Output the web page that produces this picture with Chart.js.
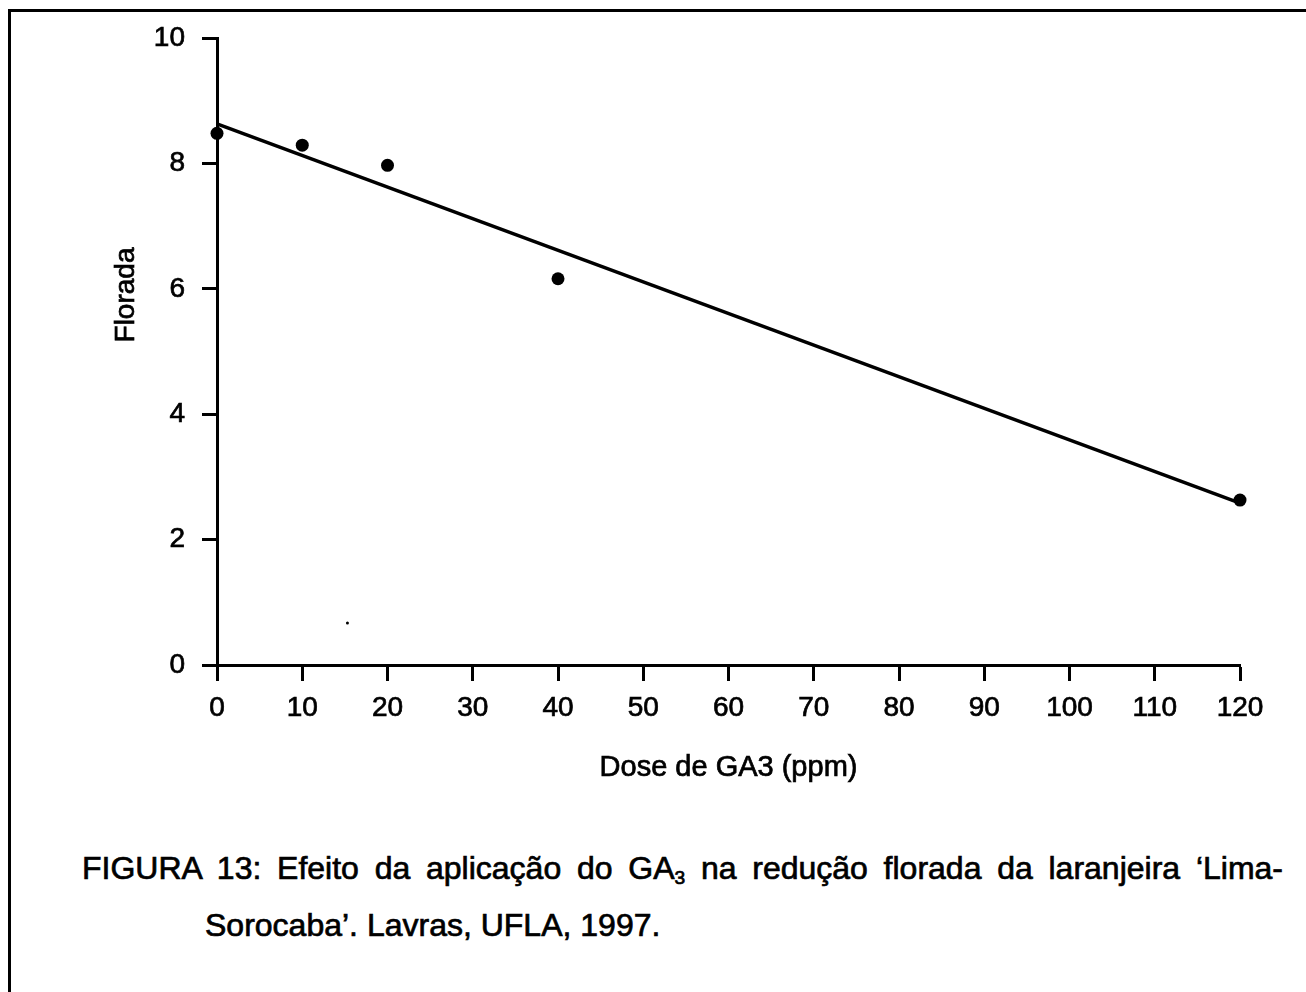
<!DOCTYPE html>
<html>
<head>
<meta charset="utf-8">
<script src="https://cdn.jsdelivr.net/npm/chart.js@4.4.0/dist/chart.umd.min.js"></script>
<style>
  html, body { margin:0; padding:0; background:#fff; width:1306px; height:992px; overflow:hidden; }
  #frame { position:absolute; left:8px; top:9px; width:1300px; height:990px; border-top:3px solid #000; border-left:3px solid #000; }
  #wrap { position:absolute; left:0; top:0; width:1306px; height:800px; }
  .cap { position:absolute; font-family:"Liberation Sans", Arial, sans-serif; font-size:32px; color:#000; white-space:nowrap; line-height:38px; -webkit-text-stroke:0.7px #000; }
  #cap1 { left:82px; top:849px; width:1201px; white-space:normal; text-align:justify; text-align-last:justify; }
  #cap2 { left:205px; top:906px; }
  sub { font-size:60%; vertical-align:-5px; line-height:0; }
</style>
</head>
<body>
<div id="frame"></div>
<div id="wrap"><canvas id="c"></canvas></div>
<div class="cap" id="cap1">FIGURA 13: Efeito da aplicação do GA<sub>3</sub> na redução florada da laranjeira ‘Lima-</div>
<div class="cap" id="cap2">Sorocaba’. Lavras, UFLA, 1997.</div>
<script>
// Data
const doses = [0, 10, 20, 40, 120];
const florada = [8.48, 8.29, 7.97, 6.16, 2.63];
const fitDoses = [0, 120];
const fitValues = [8.63, 2.58];
const speckDoses = [15.3];
const speckValues = [0.67];
const xTicks = [0, 10, 20, 30, 40, 50, 60, 70, 80, 90, 100, 110, 120];
const yTicks = [0, 2, 4, 6, 8, 10];
const xTitle = 'Dose de GA3 (ppm)';
const yTitle = 'Florada';

const toXY = (xs, ys) => xs.map((x, i) => ({x: x, y: ys[i]}));
const FONT = '"Liberation Sans", Arial, sans-serif';

const axisTitlePlugin = {
  id: 'axisTitles',
  afterDraw(chart) {
    const ctx = chart.ctx;
    const xs = chart.scales.x;
    ctx.save();
    ctx.fillStyle = '#000';
    ctx.strokeStyle = '#000';
    ctx.lineWidth = 0.7;
    ctx.textAlign = 'center';
    ctx.textBaseline = 'middle';
    // x title, centred under the x axis
    ctx.font = '29px ' + FONT;
    const cx = (xs.left + xs.right) / 2;
    ctx.fillText(xTitle, cx, 768);
    ctx.strokeText(xTitle, cx, 768);
    // y title, rotated
    ctx.translate(126, 295);
    ctx.rotate(-Math.PI / 2);
    ctx.font = '28px ' + FONT;
    ctx.fillText(yTitle, 0, 0);
    ctx.strokeText(yTitle, 0, 0);
    ctx.restore();
  }
};

new Chart(document.getElementById('c'), {
  type: 'scatter',
  data: {
    datasets: [
      { label: 'fit', data: toXY(fitDoses, fitValues), showLine: true, borderColor: '#000', borderWidth: 3.5, pointRadius: 0, clip: false },
      { label: 'Florada', data: toXY(doses, florada), backgroundColor: '#000', borderColor: '#000', pointRadius: 6.5, pointBorderWidth: 0, clip: false },
      { label: 'speck', data: toXY(speckDoses, speckValues), backgroundColor: '#000', borderColor: '#000', pointRadius: 1.5, pointBorderWidth: 0, clip: false }
    ]
  },
  options: {
    responsive: true,
    maintainAspectRatio: false,
    animation: false,
    events: [],
    layout: { padding: { left: 0, right: 66, top: 38, bottom: 0 } },
    plugins: { legend: { display: false }, tooltip: { enabled: false } },
    scales: {
      x: {
        type: 'linear', min: 0, max: 120,
        afterBuildTicks(scale) { scale.ticks = xTicks.map(v => ({value: v})); },
        afterFit(scale) { scale.height = 135; },
        grid: { drawOnChartArea: false, drawTicks: true, tickLength: 16, tickColor: '#000', tickWidth: 3 },
        border: { display: true, color: '#000', width: 3 },
        ticks: { color: '#000', font: { family: FONT, size: 28 }, padding: 10, maxRotation: 0, autoSkip: false, textStrokeColor: '#000', textStrokeWidth: 0.7 }
      },
      y: {
        type: 'linear', min: 0, max: 10,
        afterBuildTicks(scale) { scale.ticks = yTicks.map(v => ({value: v})); },
        afterFit(scale) { scale.width = 217; },
        grid: { drawOnChartArea: false, drawTicks: true, tickLength: 15, tickColor: '#000', tickWidth: 3 },
        border: { display: true, color: '#000', width: 3 },
        ticks: { color: '#000', font: { family: FONT, size: 28 }, padding: 17, textStrokeColor: '#000', textStrokeWidth: 0.7 }
      }
    }
  },
  plugins: [axisTitlePlugin]
});
</script>
</body>
</html>
